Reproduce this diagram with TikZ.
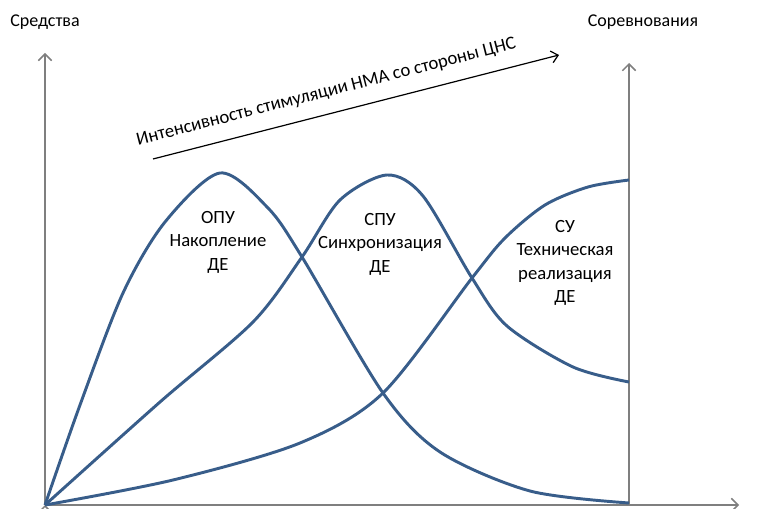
\documentclass[tikz,border=0pt]{standalone}
\usepackage{fontspec}
\setmainfont{Carlito}
\usetikzlibrary{arrows.meta,positioning,calc}

\definecolor{curveblue}{HTML}{385D8A}
\definecolor{axisgray}{HTML}{7F7F7F}

\tikzset{
  axis/.style={draw=axisgray, line width=1.1pt, -{Straight Barb[length=5pt,width=10pt]}},
  curve/.style={draw=curveblue, line width=2.2pt, line join=round},
  lbl/.style={font=\fontsize{13.5}{17.6}\selectfont, align=center, inner sep=0pt},
  blocklbl/.style={lbl, font=\fontsize{14}{17.6}\selectfont}
}

\begin{document}
\begin{tikzpicture}[x=0.75pt, y=-0.75pt]
\useasboundingbox (0,0) rectangle (757,509);

% axes
\coordinate (O) at (45,505);
\coordinate (Ytop) at (45,53);
\coordinate (Rbot) at (629,505);
\coordinate (Rtop) at (629,63);
\coordinate (Xend) at (739,505);
\path[axis] (O) edge (Ytop)
            (Rbot) edge (Rtop)
            (O) edge (Xend);

\node[lbl] (sredstva) at (45,22) {Средства};
\node[lbl] (sorev) at (643,22) {Соревнования};

% intensity arrow
\coordinate (Istart) at (153,159);
\coordinate (Iend) at (559,55);
\draw[line width=0.9pt, -{Straight Barb[length=5pt,width=9pt]}] (Istart) -- (Iend)
  node[pos=.44, sloped, above=10pt, blocklbl] (intens) {Интенсивность стимуляции НМА со стороны ЦНС};

% curves
\draw[curve] plot[smooth] coordinates {(45,505) (80,405) (123,293) (165,222) (220,173) (268,208) (302,257) (383,393) (440,452) (530,491) (629,503)};
\draw[curve] plot[smooth] coordinates {(45,505) (160,402) (253,322) (302,257) (340,200) (387,175) (423,196) (472,278) (507,326) (573,367) (629,382)};
\draw[curve] plot[smooth] coordinates {(45,505) (173,480) (300,443) (383,393) (472,278) (505,238) (545,205) (588,187) (629,180)};

% labels
\node[blocklbl] (opu) at (218,242) {ОПУ\\Накопление\\ДЕ};
\node[blocklbl] (spu) at (380,244) {СПУ\\Синхронизация\\ДЕ};
\node[blocklbl] (su) at (565,263) {СУ\\Техническая\\реализация\\ДЕ};
\end{tikzpicture}
\end{document}
